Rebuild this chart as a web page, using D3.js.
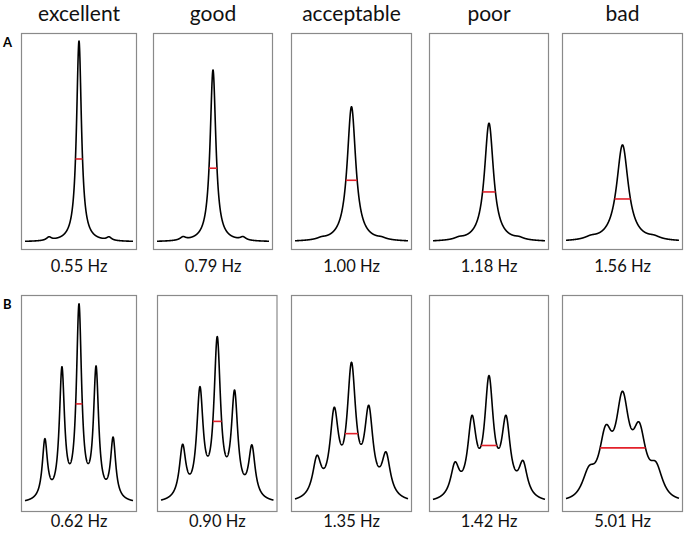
<!DOCTYPE html>
<html>
<head>
<meta charset="utf-8">
<script src="https://cdn.jsdelivr.net/npm/d3@7"></script>
<style>
  html, body { margin: 0; padding: 0; background: #fff; }
  svg { display: block; }
  text { font-family: Lato, "Open Sans", sans-serif; }
</style>
</head>
<body>
<script>
// ---------------- data ----------------
const qualities = ["excellent", "good", "acceptable", "poor", "bad"];
const rowLabels = ["A", "B"];
const fwhmLabelsA = ["0.55 Hz", "0.79 Hz", "1.00 Hz", "1.18 Hz", "1.56 Hz"];
const fwhmLabelsB = ["0.62 Hz", "0.90 Hz", "1.35 Hz", "1.42 Hz", "5.01 Hz"];

// Row A: singlet with two small satellites (x in Hz, heights relative)
const peakHeightA   = [1.000, 0.856, 0.673, 0.591, 0.483];
const satHeightA    = [0.026, 0.027, 0.027, 0.028, 0.035];
const satOffsetA    = [2.78, 2.68, 2.66, 2.68, 2.80];
const lineWidthA    = [0.55, 0.62, 0.92, 0.98, 1.25];
const lorentzFracA  = [1, 1, 1, 1, 1];
const halfLevelA    = [0.413, 0.367, 0.307, 0.249, 0.214];

// Row B: five-line multiplet
const multipletB = [
  [0.325, 0.683, 0.996, 0.687, 0.333],
  [0.297, 0.584, 0.833, 0.567, 0.294],
  [0.242, 0.481, 0.705, 0.491, 0.259],
  [0.209, 0.441, 0.639, 0.441, 0.216],
  [0.190, 0.393, 0.561, 0.407, 0.210]
];
const spacingB      = [1.58, 1.54, 1.53, 1.52, 1.48];
const lineWidthB    = [0.58, 0.70, 0.92, 0.94, 1.35];
const lorentzFracB  = [1, 1, 1, 1, 0.75];
const halfLevelB    = [0.498, 0.411, 0.350, 0.291, 0.279];

// ---------------- layout ----------------
const W = 685, H = 538;
const colLefts  = [[21, 153, 291, 429, 562], [21, 157, 291, 429, 562]];
const colWidths = [[116, 120, 121, 120, 121], [116, 120.5, 121, 120, 121]];
const rowTops = [33, 295];
const panelH = 217;
const labelBaselines = [271.5, 526.5];

// ---------------- helpers ----------------
function shape(x, x0, w, eta) {
  const u = (x - x0) / w;
  const L = 1 / (1 + 4 * u * u);
  const G = Math.exp(-4 * Math.LN2 * u * u);
  return eta * L + (1 - eta) * G;
}
function solve(M, b) {
  const n = b.length;
  const A = M.map((row, i) => row.concat([b[i]]));
  for (let i = 0; i < n; i++) {
    let p = i;
    for (let k = i + 1; k < n; k++) if (Math.abs(A[k][i]) > Math.abs(A[p][i])) p = k;
    [A[i], A[p]] = [A[p], A[i]];
    for (let k = i + 1; k < n; k++) {
      const f = A[k][i] / A[i][i];
      for (let j = i; j <= n; j++) A[k][j] -= f * A[i][j];
    }
  }
  const x = new Array(n).fill(0);
  for (let i = n - 1; i >= 0; i--) {
    let s = A[i][n];
    for (let j = i + 1; j < n; j++) s -= A[i][j] * x[j];
    x[i] = s / A[i][i];
  }
  return x;
}
function buildSpectrum(positions, targets, w, eta) {
  const M = positions.map(xi => positions.map(xj => shape(xi, xj, w, eta)));
  const amps = solve(M, targets);
  return x => amps.reduce((s, a, j) => s + a * shape(x, positions[j], w, eta), 0);
}
function halfWidthSpan(f, level) {
  const step = 0.002;
  function walk(dir) {
    let x = 0, v = f(0);
    while (Math.abs(x) < 5) {
      const nx = x + dir * step, nv = f(nx);
      if (nv <= level) return x + dir * step * (v - level) / (v - nv);
      x = nx; v = nv;
    }
    return x;
  }
  return [walk(-1), walk(1)];
}

// ---------------- draw ----------------
const svg = d3.select("body").append("svg").attr("width", W).attr("height", H);

const xs = d3.range(-5, 5.0001, 0.01);

[0, 1].forEach(r => {
  svg.append("text")
    .attr("x", 3).attr("y", rowTops[r] + 13.5)
    .attr("font-family", "'Liberation Sans', Arial, sans-serif")
    .attr("font-weight", "bold").attr("font-size", 13)
    .attr("fill", "#000")
    .text(rowLabels[r]);

  qualities.forEach((q, c) => {
    const left = colLefts[r][c], pw = colWidths[r][c], top = rowTops[r];
    const x = d3.scaleLinear().domain([-5, 5]).range([left + 4, left + pw - 4]);
    const y = d3.scaleLinear().domain([-0.04, 1.04]).range([top + panelH, top]);

    let f, level;
    if (r === 0) {
      f = buildSpectrum([-satOffsetA[c], 0, satOffsetA[c]],
                        [satHeightA[c], peakHeightA[c], satHeightA[c]],
                        lineWidthA[c], lorentzFracA[c]);
      level = halfLevelA[c];
    } else {
      const d = spacingB[c];
      f = buildSpectrum([-2 * d, -d, 0, d, 2 * d], multipletB[c], lineWidthB[c], lorentzFracB[c]);
      level = halfLevelB[c];
    }

    const g = svg.append("g");
    g.append("rect")
      .attr("x", left + 0.5).attr("y", top + 0.5)
      .attr("width", pw - 1).attr("height", panelH - 1)
      .attr("fill", "none").attr("stroke", "#8a8a8a").attr("stroke-width", 1.2);

    g.append("path")
      .datum(xs)
      .attr("d", d3.line().x(v => x(v)).y(v => y(f(v))).curve(d3.curveLinear))
      .attr("fill", "none").attr("stroke", "#000").attr("stroke-width", 1.6)
      .attr("stroke-linejoin", "round");

    const span = halfWidthSpan(f, level);
    g.append("line")
      .attr("x1", x(span[0])).attr("x2", x(span[1]))
      .attr("y1", y(level)).attr("y2", y(level))
      .attr("stroke", "#e3202a").attr("stroke-width", 1.6);

    const labels = r === 0 ? fwhmLabelsA : fwhmLabelsB;
    svg.append("text")
      .attr("x", left + pw / 2).attr("y", labelBaselines[r])
      .attr("text-anchor", "middle").attr("font-size", 16.5).attr("fill", "#111")
      .text(labels[c]);

    if (r === 0) {
      svg.append("text")
        .attr("x", left + pw / 2).attr("y", 20.5)
        .attr("text-anchor", "middle").attr("font-size", 21).attr("fill", "#111")
        .text(q);
    }
  });
});
</script>
</body>
</html>
